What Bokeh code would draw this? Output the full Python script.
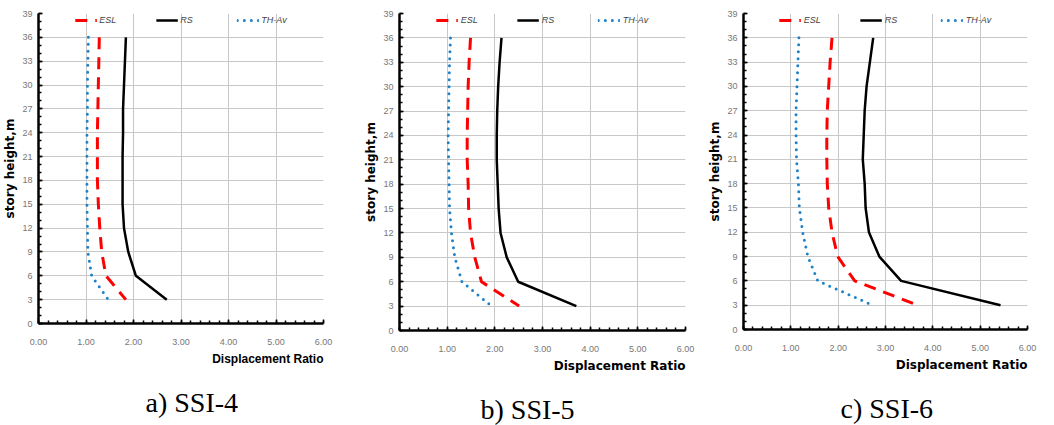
from bokeh.plotting import figure
from bokeh.layouts import row
from bokeh.models import Title, FixedTicker, NumeralTickFormatter, Range1d, Legend, LegendItem
from bokeh.embed import file_html
from bokeh.resources import INLINE

heights = [36, 33, 30, 27, 24, 21, 18, 15, 12, 9, 6, 3]

# SSI-4
esl_a = [1.28, 1.27, 1.26, 1.25, 1.24, 1.24, 1.24, 1.26, 1.29, 1.33, 1.42, 1.84]
rs_a = [1.84, 1.82, 1.80, 1.78, 1.78, 1.77, 1.77, 1.77, 1.80, 1.89, 2.05, 2.70]
th_a = [1.05, 1.04, 1.03, 1.03, 1.02, 1.02, 1.02, 1.02, 1.03, 1.04, 1.12, 1.47]
# SSI-5
esl_b = [1.49, 1.46, 1.44, 1.43, 1.42, 1.42, 1.44, 1.45, 1.49, 1.58, 1.72, 2.51]
rs_b = [2.14, 2.10, 2.07, 2.05, 2.04, 2.04, 2.06, 2.08, 2.12, 2.25, 2.49, 3.71]
th_b = [1.07, 1.05, 1.04, 1.03, 1.02, 1.03, 1.04, 1.05, 1.09, 1.16, 1.31, 1.93]
# SSI-6
esl_c = [1.87, 1.83, 1.80, 1.77, 1.76, 1.76, 1.77, 1.80, 1.87, 1.99, 2.35, 3.68]
rs_c = [2.74, 2.67, 2.60, 2.56, 2.54, 2.52, 2.56, 2.58, 2.65, 2.87, 3.33, 5.43]
th_c = [1.17, 1.15, 1.13, 1.11, 1.11, 1.12, 1.16, 1.18, 1.25, 1.36, 1.57, 2.73]

captions = ["a) SSI-4", "b) SSI-5", "c) SSI-6"]
series_names = ["ESL", "RS", "TH-Av"]
x_ticks = [0, 1, 2, 3, 4, 5, 6]
y_ticks = list(range(0, 40, 3))

def panel(esl, rs, th, caption, left, fw, fh, top, right, cap_offset, xlab_font):
    p = figure(output_backend="svg", toolbar_location=None,
               frame_width=fw, frame_height=fh,
               min_border_left=left, min_border_right=right, min_border_top=top,
               min_border_bottom=0,
               x_range=Range1d(0, 6), y_range=Range1d(0, 39))
    p.outline_line_color = None
    p.background_fill_color = "white"
    p.border_fill_color = "white"
    for ax in (p.xaxis[0], p.yaxis[0]):
        ax.axis_line_color = "black"
        ax.axis_line_width = 2.5
        ax.major_tick_in = 4
        ax.major_tick_out = 0
        ax.minor_tick_in = 3
        ax.minor_tick_out = 0
        ax.major_tick_line_color = "black"
        ax.minor_tick_line_color = "black"
        ax.major_tick_line_width = 1.5
        ax.minor_tick_line_width = 1.5
        ax.major_label_text_font = "Liberation Sans"
        ax.major_label_text_font_size = "9px"
        ax.major_label_text_color = "#777777"
    p.xaxis[0].ticker = FixedTicker(ticks=x_ticks,
                                    minor_ticks=[i / 5 for i in range(31)])
    p.xaxis[0].formatter = NumeralTickFormatter(format="0.00")
    p.xaxis[0].major_label_standoff = 15
    p.yaxis[0].ticker = FixedTicker(ticks=y_ticks, minor_ticks=list(range(40)))
    p.yaxis[0].major_label_standoff = 6
    p.yaxis[0].axis_label = "story height,m"
    p.yaxis[0].axis_label_text_font = "DejaVu Sans"
    p.yaxis[0].axis_label_text_font_style = "bold"
    p.yaxis[0].axis_label_text_font_size = "12px"
    p.yaxis[0].axis_label_text_color = "black"
    p.yaxis[0].axis_label_standoff = 2
    p.xgrid.ticker = FixedTicker(ticks=x_ticks)
    p.ygrid.ticker = FixedTicker(ticks=y_ticks)
    p.grid.grid_line_color = "#c8c8c8"
    p.grid.grid_line_width = 1

    r1 = p.line(esl, heights, line_color="#ff0000", line_width=3, line_dash="12 8")
    r2 = p.line(rs, heights, line_color="black", line_width=2.5)
    r3 = p.line(th, heights, line_color="#1f82c8", line_width=3, line_dash="0 7",
                line_cap="round")
    leg = Legend(items=[LegendItem(label=series_names[0], renderers=[r1]),
                        LegendItem(label=series_names[1], renderers=[r2]),
                        LegendItem(label=series_names[2], renderers=[r3])],
                 orientation="horizontal", location="top_center",
                 label_text_font_style="italic", label_text_font_size="9px",
                 label_text_font="Liberation Sans",
                 glyph_width=22, glyph_height=10, spacing=36,
                 label_standoff=3, background_fill_alpha=0, border_line_color=None,
                 margin=2, padding=2)
    p.add_layout(leg)

    t1 = Title(text="Displacement Ratio", align="right", text_font=xlab_font,
               text_font_style="bold", text_font_size="12px", text_color="black",
               standoff=4, offset=0)
    p.add_layout(t1, "below")
    t2 = Title(text=caption, align="left", text_font="Liberation Serif",
               text_font_style="normal", text_font_size="28px", text_color="black",
               standoff=34, offset=cap_offset)
    p.add_layout(t2, "below")
    return p

pa = panel(esl_a, rs_a, th_a, captions[0], 36, 285, 310, 13, 29, 107, "Liberation Sans")
pb = panel(esl_b, rs_b, th_b, captions[1], 47, 286, 317, 10, 17, 81, "DejaVu Sans")
pc = panel(esl_c, rs_c, th_c, captions[2], 41, 284, 316, 10, 29, 97, "DejaVu Sans")

layout = row(pa, pb, pc)
open("out.html", "w").write(file_html(layout, INLINE))
